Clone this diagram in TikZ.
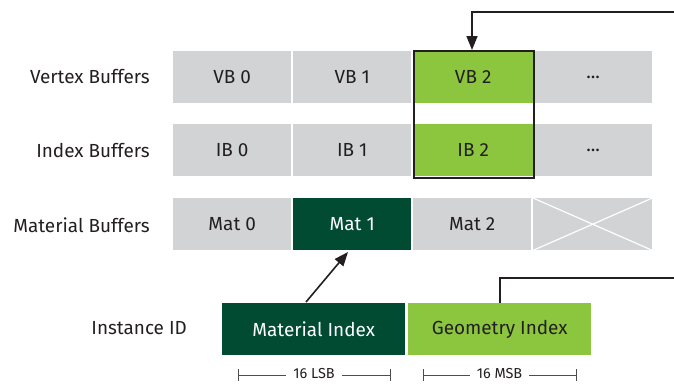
\documentclass[tikz,border=0pt]{standalone}
\usepackage{fontspec}
\setmainfont{Fira Sans}
\usetikzlibrary{arrows.meta}
\definecolor{bgrey}{HTML}{D1D3D4}
\definecolor{lgreen}{HTML}{8CC63F}
\definecolor{dgreen}{HTML}{004B32}
\definecolor{txt}{HTML}{231F20}
\definecolor{dimc}{HTML}{4D4D4F}
\begin{document}
\begin{tikzpicture}[x=1bp,y=-1bp,
  cell/.style={fill=bgrey,draw=none,minimum width=118bp,minimum height=52bp,inner sep=0pt,font=\fontsize{19}{22}\selectfont,text=txt,anchor=north west},
  lcell/.style={cell,fill=lgreen},
  dcell/.style={cell,fill=dgreen,text=white},
  rowlabel/.style={anchor=east,font=\fontsize{19}{22}\selectfont,text=txt,inner sep=0pt},
  dimlabel/.style={font=\fontsize{14.5}{17}\selectfont,text=txt,fill=white,inner xsep=7bp,inner ysep=0bp},
  conn/.style={draw=txt,line width=1.6bp},
  dimline/.style={draw=dimc,line width=1bp}]
\useasboundingbox (0,0) rectangle (674,383);
% Vertex buffers
\node[rowlabel] (lvb) at (150,77) {Vertex Buffers};
\node[cell] (vb0) at (173,51) {VB 0};
\node[cell] (vb1) at (293,51) {VB 1};
\node[lcell,minimum width=120bp] (vb2) at (413,51) {VB 2};
\node[cell] (vb3) at (534,51) {...};
% Index buffers
\node[rowlabel] (lib) at (150,151) {Index Buffers};
\node[cell] (ib0) at (173,124) {IB 0};
\node[cell] (ib1) at (293,124) {IB 1};
\node[lcell,minimum width=120bp] (ib2) at (413,124) {IB 2};
\node[cell] (ib3) at (534,124) {...};
% Material buffers
\node[rowlabel] (lmb) at (150,225) {Material Buffers};
\node[cell] (m0) at (173,198) {Mat 0};
\node[dcell] (m1) at (293,198) {Mat 1};
\node[cell] (m2) at (413,198) {Mat 2};
\node[cell,minimum width=119bp] (m3) at (533,198) {};
\draw[white,line width=1.2bp] (m3.north west) -- (m3.south east) (m3.south west) -- (m3.north east);
% selection frame
\node[draw=txt,line width=1.6bp,minimum width=120bp,minimum height=127bp,inner sep=0pt,anchor=north west] (sel) at (413,50) {};
% Instance ID
\node[rowlabel] (lid) at (187,328) {Instance ID};
\node[dcell,minimum width=183bp] (mi) at (222,303) {Material Index};
\node[lcell,minimum width=183bp] (gi) at (408,303) {Geometry Index};
% connectors
\coordinate (topr) at (674,12);
\coordinate (topc) at (472,12);
\draw[conn,-{Triangle[length=14bp,width=11bp]}] (topr) -- (topc) -- (sel.north -| topc);
\coordinate (midr) at (674,278);
\coordinate (midc) at (500,278);
\draw[conn] (gi.north -| midc) -- (midc) -- (midr);
\coordinate (mitail) at (306,302);
\coordinate (m1tip) at (348,252);
\draw[conn,-{Triangle[length=14bp,width=11bp]}] (mitail) -- (m1tip);
% dimensions
\coordinate (l1) at (238,375); \coordinate (l2) at (390,375);
\coordinate (r1) at (423,375); \coordinate (r2) at (576,375);
\draw[dimline] (l1) -- (l2) (l1) ++(0,-6) -- ++(0,12) (l2) ++(0,-6) -- ++(0,12);
\draw[dimline] (r1) -- (r2) (r1) ++(0,-6) -- ++(0,12) (r2) ++(0,-6) -- ++(0,12);
\node[dimlabel] (lsb) at (314,373.5) {16 LSB};
\node[dimlabel] (msb) at (499.5,373.5) {16 MSB};
\end{tikzpicture}
\end{document}
